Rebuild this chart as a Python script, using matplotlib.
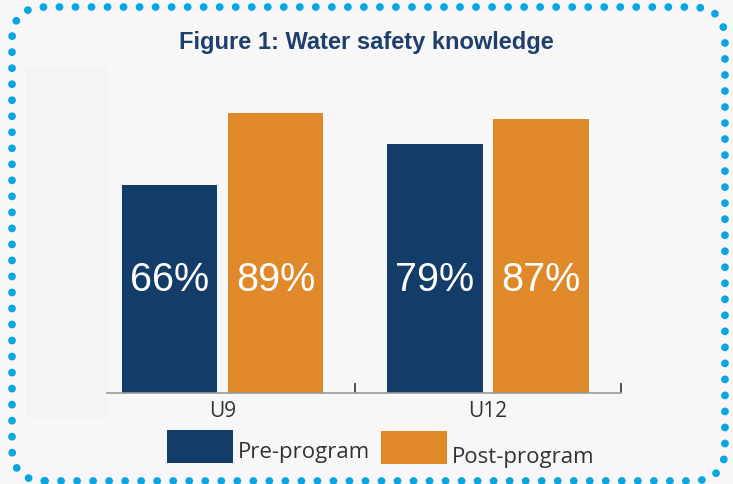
import matplotlib
matplotlib.use("Agg")
import matplotlib.pyplot as plt
from matplotlib.patches import FancyBboxPatch, Rectangle
import numpy as np

categories = ["U9", "U12"]
series_names = ["Pre-program", "Post-program"]
pre_values = [66, 79]
post_values = [89, 87]
colors = ["#133c69", "#e0892a"]

W, H = 733, 484
fig = plt.figure(figsize=(W / 100, H / 100), dpi=100)
fig.patch.set_facecolor("#f7f7f7")

def fx(px):
    return px / W

def fy(py):
    return 1 - py / H

# faint panel at left
fig.add_artist(Rectangle((fx(26), fy(418)), fx(107) - fx(26), fy(67) - fy(418),
                         transform=fig.transFigure, facecolor="#f5f3f3",
                         edgecolor="none", zorder=0))

# dotted rounded border
border = FancyBboxPatch((fx(12), fy(481)), fx(725) - fx(12), fy(7) - fy(481),
                        boxstyle="round,pad=0,rounding_size=0.045",
                        transform=fig.transFigure, facecolor="none",
                        edgecolor="#07a6e2", linewidth=5.6,
                        linestyle=(0, (0.01, 2.05)), capstyle="round",
                        mutation_aspect=W / H, zorder=5)
fig.add_artist(border)

ax_left, ax_right = 107, 621
ax_bottom, ax_top = 393, 78
ax = fig.add_axes([fx(ax_left), fy(ax_bottom), fx(ax_right) - fx(ax_left),
                   fy(ax_top) - fy(ax_bottom)])
ax.set_facecolor("none")

x = np.arange(len(categories))
bw = 0.36
off = 0.2
b1 = ax.bar(x - off, pre_values, bw, color=colors[0], label=series_names[0], zorder=2)
b2 = ax.bar(x + off, post_values, bw, color=colors[1], label=series_names[1], zorder=2)

for bars, vals in ((b1, pre_values), (b2, post_values)):
    for rect, v in zip(bars, vals):
        ax.text(rect.get_x() + rect.get_width() / 2, 36, f"{v}%",
                ha="center", va="center", color="white", fontsize=28.5,
                family="Liberation Sans", zorder=3)

ax.set_xlim(-0.435, 1.5)
ax.set_ylim(0, 100)
for s in ("top", "left", "right"):
    ax.spines[s].set_visible(False)
ax.spines["bottom"].set_color("#9a9a9a")
ax.spines["bottom"].set_linewidth(1.2)
ax.set_yticks([])
ax.set_xticks([0.5, 1.5])
ax.set_xticklabels(["", ""])
ax.tick_params(axis="x", which="major", direction="in", length=7, width=1.2, color="#333333")
ax.set_xticks(x, minor=True)
ax.set_xticklabels(categories, minor=True)
ax.tick_params(axis="x", which="minor", length=0, pad=6, labelsize=15, labelcolor="#333333")
for t in ax.get_xticklabels(minor=True):
    t.set_family("Open Sans")

# legend drawn in figure pixel coordinates
legend_items = [
    (series_names[0], colors[0], (167, 430, 233, 463), (238, 458)),
    (series_names[1], colors[1], (381, 431, 447, 464), (452, 463)),
]
for name, col, (x0, y0, x1, y1), (tx, ty) in legend_items:
    fig.add_artist(Rectangle((fx(x0), fy(y1)), fx(x1) - fx(x0), fy(y0) - fy(y1),
                             transform=fig.transFigure, facecolor=col,
                             edgecolor="none"))
    fig.text(fx(tx), fy(ty), name, ha="left", va="baseline", fontsize=16,
             color="#333333", family="Open Sans")

fig.text(0.5, fy(43), "Figure 1: Water safety knowledge", ha="center", va="center",
         fontsize=17, fontweight="bold", color="#1e3f6b", family="Liberation Sans")

fig.savefig("out.png", dpi=100, facecolor=fig.get_facecolor())
